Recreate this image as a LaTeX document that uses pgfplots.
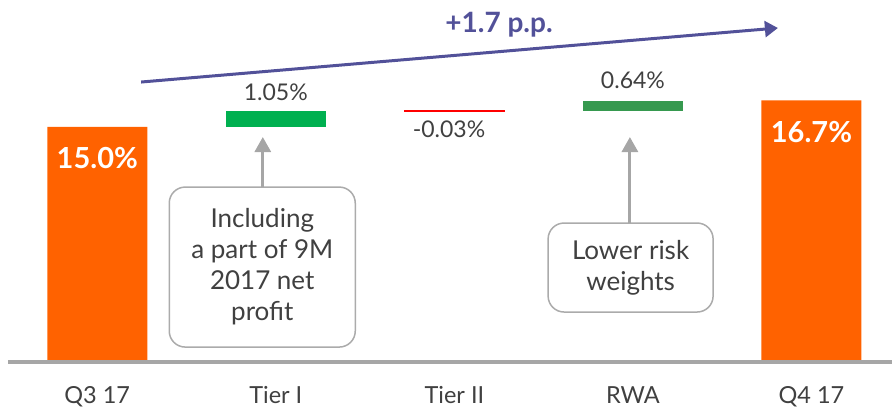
\documentclass[border=0pt]{standalone}
\usepackage{fontspec}
\setmainfont{Lato}
\usepackage{pgfplots}
\pgfplotsset{compat=1.18}
\usetikzlibrary{arrows.meta}
\definecolor{ingorange}{HTML}{FF6200}
\definecolor{greenA}{HTML}{00B050}
\definecolor{greenB}{HTML}{36994F}
\definecolor{ingred}{HTML}{FF0000}
\definecolor{txt}{HTML}{404040}
\definecolor{axisgray}{HTML}{A6A6A6}
\definecolor{boxgray}{HTML}{ABABAB}
\definecolor{ingpurple}{HTML}{525199}
\begin{document}
\begin{tikzpicture}
\begin{axis}[
  x=178.55pt, y=15.667pt,
  xmin=-0.5, xmax=4.451, ymin=0, ymax=23.106,
  enlargelimits=false, clip=false,
  ybar stacked, bar width=100pt,
  axis on top,
  axis y line=none, axis x line*=bottom,
  x axis line style={draw=axisgray, line width=4pt},
  xtick={0,1,2,3,4},
  xticklabels={Q3 17,Tier I,Tier II,RWA,Q4 17},
  major tick length=0pt,
  xticklabel style={font=\fontsize{23.5}{27}\selectfont, text=txt, anchor=base, yshift=-41pt},
]
% invisible base (Tier II)
\addplot[fill=none, draw=none, forget plot] coordinates {(0,0) (1,0) (2,16.02) (3,0) (4,0)};
% Tier II change (-0.03)
\addplot[fill=ingred, draw=ingred, line width=1pt] coordinates {(0,0) (1,0) (2,0.03) (3,0) (4,0)};
% invisible base (Tier I, RWA)
\addplot[fill=none, draw=none, forget plot] coordinates {(0,0) (1,15.0) (2,0) (3,16.02) (4,0)};
% totals
\addplot[fill=ingorange, draw=none] coordinates {(0,15.0) (1,0) (2,0) (3,0) (4,16.7)};
% Tier I change
\addplot[fill=greenA, draw=none] coordinates {(0,0) (1,1.05) (2,0) (3,0) (4,0)};
% RWA change
\addplot[fill=greenB, draw=none] coordinates {(0,0) (1,0) (2,0) (3,0.64) (4,0)};

% value labels
\node[font=\fontsize{23}{27}\selectfont, text=txt, anchor=base] at (axis cs:1,16.66) {1.05\%};
\node[font=\fontsize{23}{27}\selectfont, text=txt, anchor=base] at (axis cs:1.97,14.30) {-0.03\%};
\node[font=\fontsize{23}{27}\selectfont, text=txt, anchor=base] at (axis cs:3,17.43) {0.64\%};
\coordinate (labA) at (axis cs:0,12.38);
\coordinate (labB) at (axis cs:4,14.04);

% overall change arrow
\draw[ingpurple, line width=3pt, -{Triangle[length=13pt,width=16pt]}] (axis cs:0.2455,17.87) -- (axis cs:3.812,21.32);
\node[font=\bfseries\fontsize{28}{32}\selectfont, text=ingpurple, anchor=base] at (axis cs:2.25,21.06) {+1.7 p.p.};

% callouts
\draw[axisgray, line width=3pt, -{Triangle[length=15pt,width=16pt]}] (axis cs:0.927,11.17) -- (axis cs:0.927,14.36);
\node[draw=boxgray, line width=1.5pt, rounded corners=16pt, fill=white,
      minimum width=186pt, minimum height=160pt, align=center,
      font=\fontsize{26}{31}\selectfont, text=txt] at (axis cs:0.924,6.06)
      {Including\\a part of 9M\\2017 net\\profit};
\draw[axisgray, line width=3pt, -{Triangle[length=15pt,width=16pt]}] (axis cs:2.983,8.87) -- (axis cs:2.983,14.36);
\node[draw=boxgray, line width=1.5pt, rounded corners=16pt, fill=white,
      minimum width=165pt, minimum height=89pt, align=center,
      font=\fontsize{26}{31}\selectfont, text=txt] at (axis cs:2.987,6.03)
      {Lower risk\\weights};
\end{axis}
\node[font=\bfseries\fontsize{29}{33}\selectfont, text=white, anchor=base] at (labA) {15.0\%};
\node[font=\bfseries\fontsize{29}{33}\selectfont, text=white, anchor=base] at (labB) {16.7\%};
\pgfresetboundingbox
\useasboundingbox ([xshift=-8pt,yshift=-46pt]current axis.south west) rectangle (current axis.north east);
\end{tikzpicture}
\end{document}
